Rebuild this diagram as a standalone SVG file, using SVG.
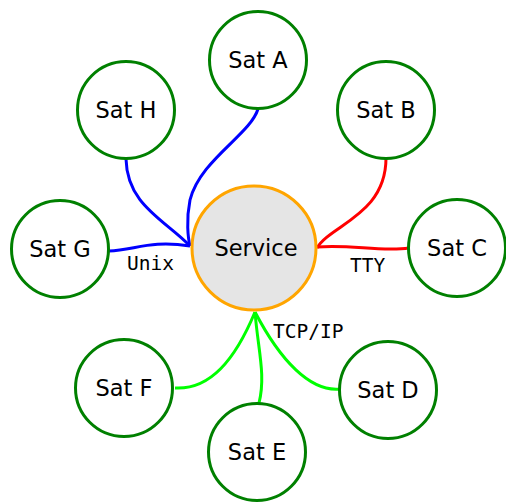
<svg xmlns="http://www.w3.org/2000/svg" width="506" height="504" viewBox="0 0 506 504">
<style>
.sat circle{fill:#fff;stroke:#008000;stroke-width:3}
.node text{font-family:"DejaVu Sans",sans-serif;font-size:22.5px;text-anchor:middle;fill:#000}
.e{fill:none;stroke-width:3}
.lbl{font-family:"DejaVu Sans Mono",monospace;font-size:19.5px;fill:#000}
</style>
<rect width="506" height="504" fill="#fff"/>
<g id="edges">
<path class="e" stroke="#0000ff" d="M258,109 C250,135 200,160 190,200 C186,220 188,238 190,246"/>
<path class="e" stroke="#0000ff" d="M126,159 C127,205 165,220 190,246"/>
<path class="e" stroke="#0000ff" d="M109,251 C135,250 150,240 190,246"/>
<text class="lbl" x="127" y="270">Unix</text>
<path class="e" stroke="#ff0000" d="M386,158 C386,215 330,225 317,248"/>
<path class="e" stroke="#ff0000" d="M409,248 C380,252 350,244 317,247"/>
<text class="lbl" x="350" y="272">TTY</text>
<path class="e" stroke="#00ff00" d="M255,312 C280,360 310,392 340,389"/>
<path class="e" stroke="#00ff00" d="M255,312 C258,350 266,375 259,403"/>
<path class="e" stroke="#00ff00" d="M255,312 C235,360 210,390 175,388"/>
<text class="lbl" x="273" y="338">TCP/IP</text>
</g>
<g id="service" class="node"><circle cx="254" cy="248" r="62" fill="#e5e5e5" stroke="#ffa500" stroke-width="3"/><text x="256" y="256">Service</text></g>
<g id="satA" class="node sat"><circle cx="258" cy="60" r="48.5"/><text x="258" y="68">Sat A</text></g>
<g id="satB" class="node sat"><circle cx="386" cy="110" r="48.5"/><text x="386" y="118">Sat B</text></g>
<g id="satC" class="node sat"><circle cx="457" cy="248" r="48.5"/><text x="457" y="256">Sat C</text></g>
<g id="satD" class="node sat"><circle cx="388" cy="390" r="48.5"/><text x="388" y="398">Sat D</text></g>
<g id="satE" class="node sat"><circle cx="257" cy="452" r="48.5"/><text x="257" y="460">Sat E</text></g>
<g id="satF" class="node sat"><circle cx="124" cy="388" r="48.5"/><text x="124" y="396">Sat F</text></g>
<g id="satG" class="node sat"><circle cx="60" cy="249" r="48.5"/><text x="60" y="257">Sat G</text></g>
<g id="satH" class="node sat"><circle cx="126" cy="110" r="48.5"/><text x="126" y="118">Sat H</text></g>
</svg>
